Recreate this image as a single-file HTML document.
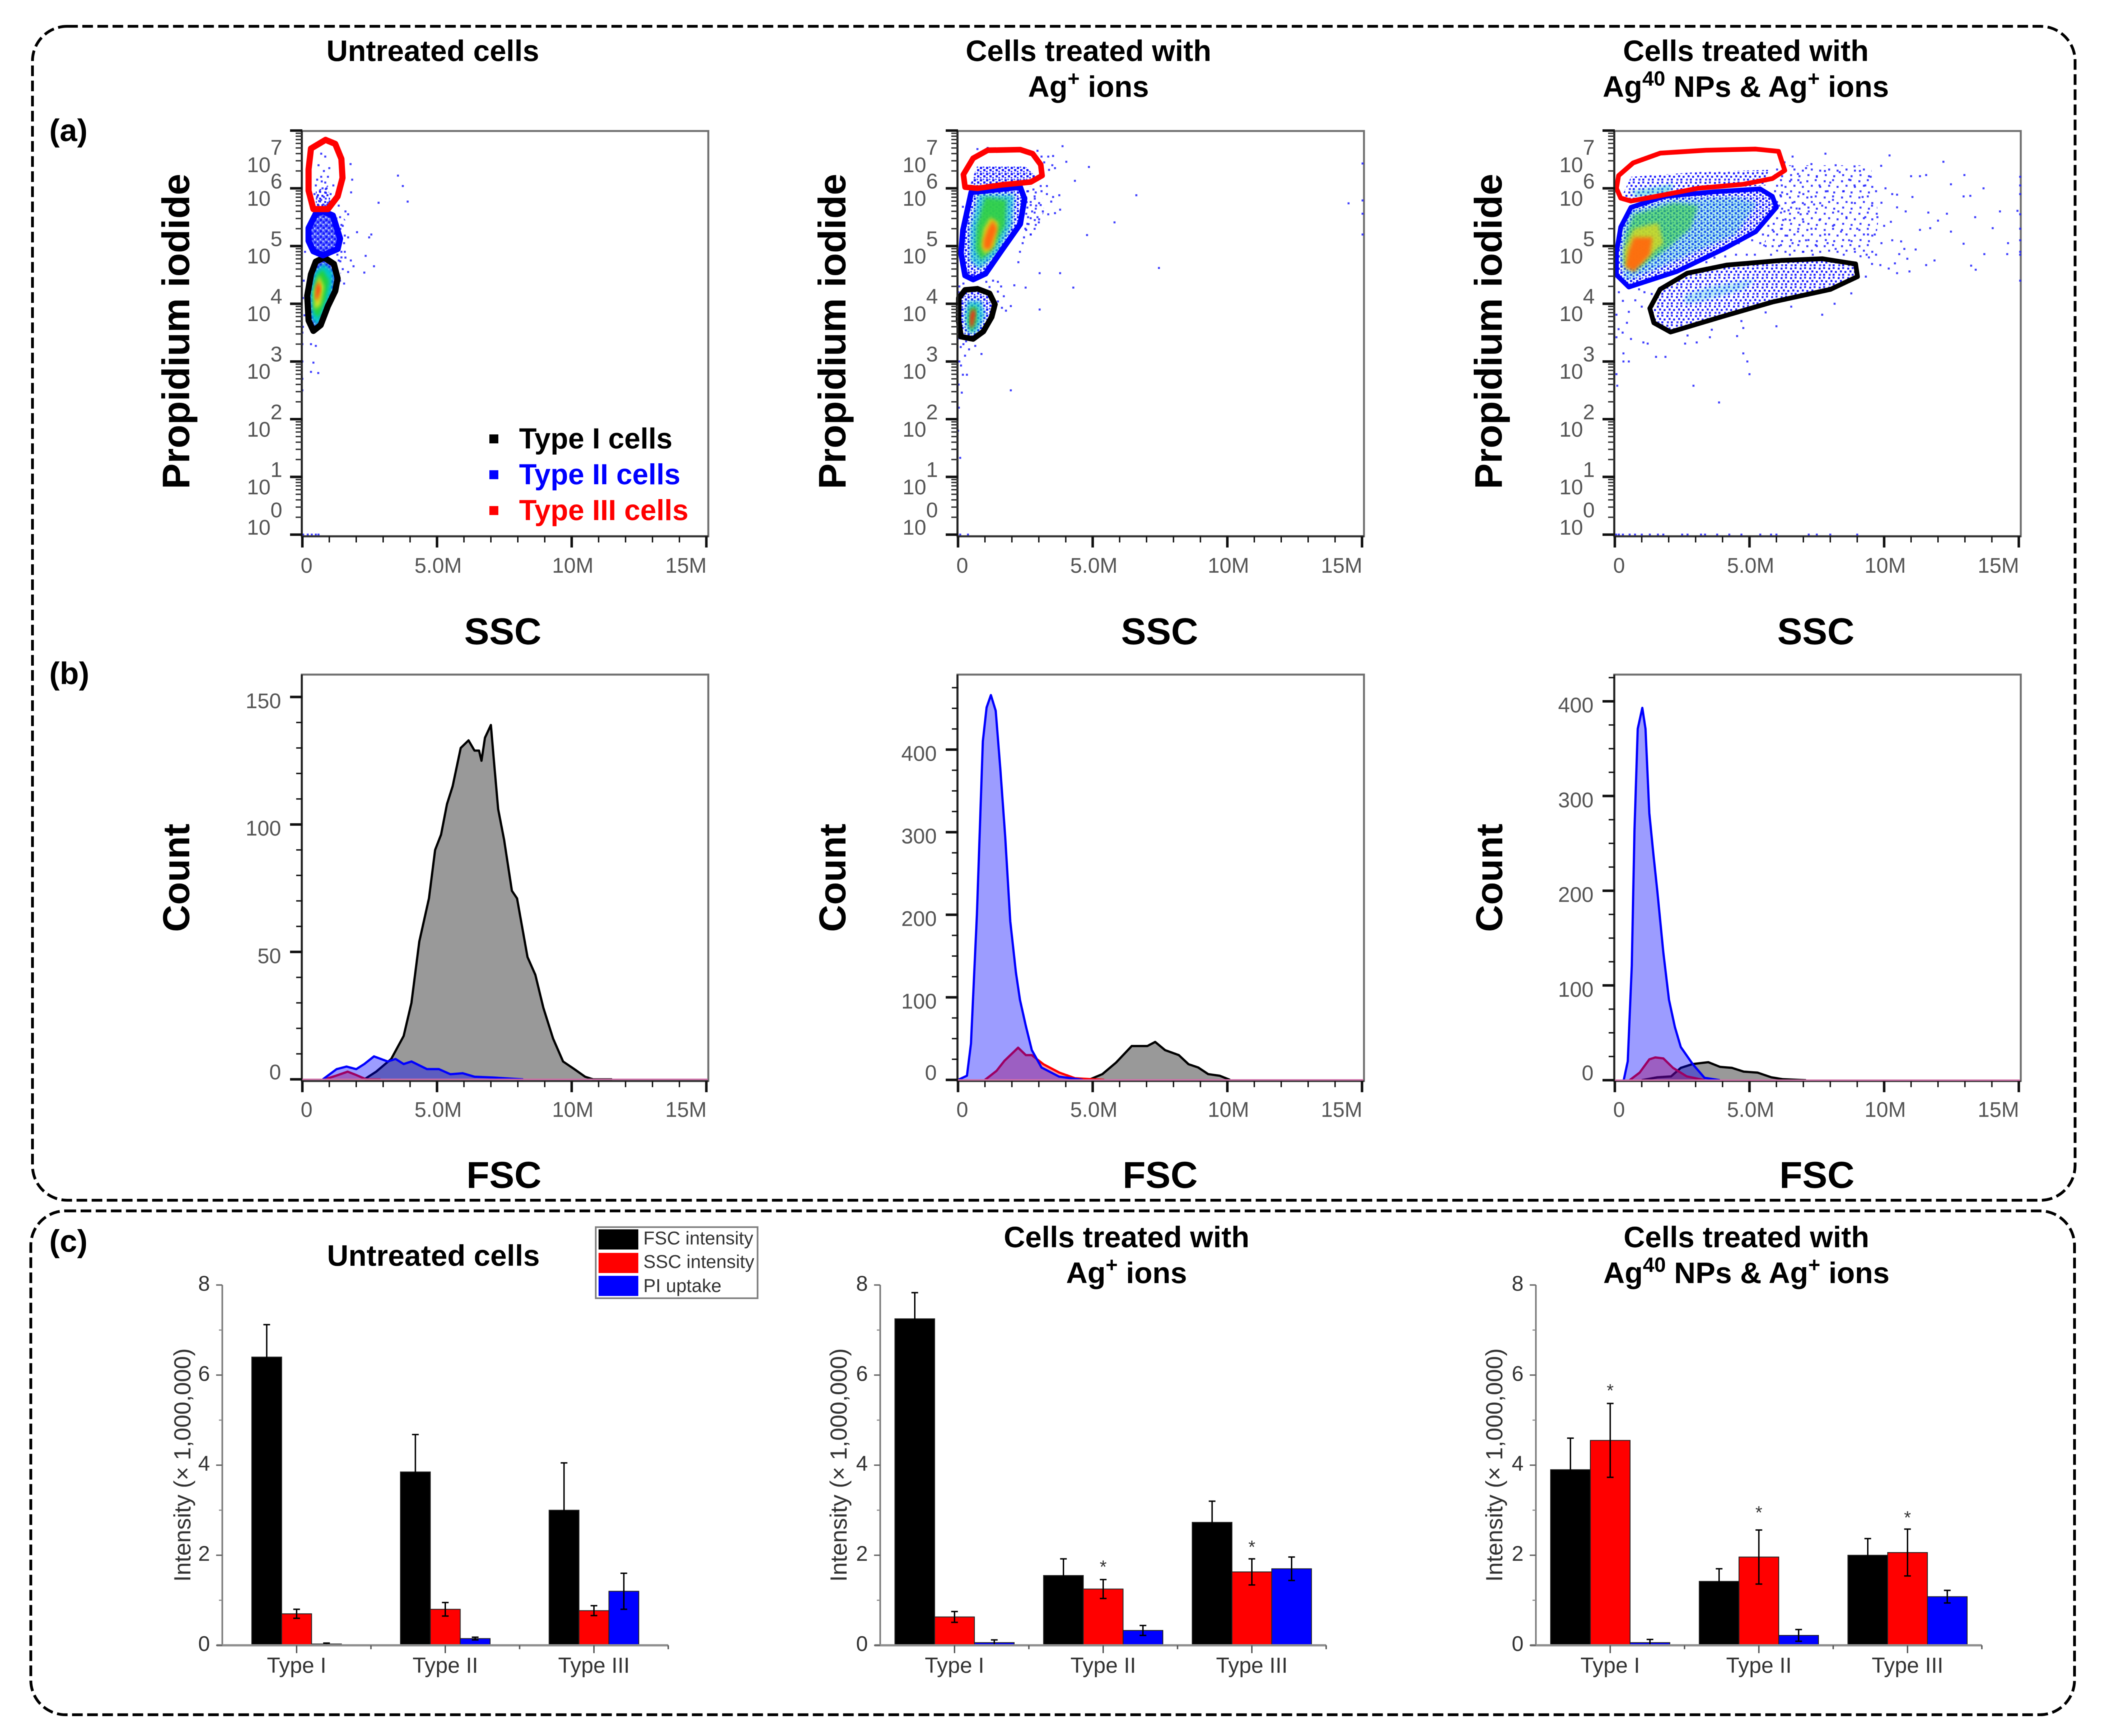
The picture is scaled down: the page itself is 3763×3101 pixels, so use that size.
<!DOCTYPE html>
<html lang="en">
<head>
<meta charset="utf-8">
<title>Flow cytometry of cells treated with silver</title>
<style>
html,body{margin:0;padding:0;background:#fff;width:3763px;height:3101px;overflow:hidden}
svg{display:block;filter:blur(0.9px)}
text{font-family:"Liberation Sans",Arial,sans-serif}
.ttl{font-size:53px;font-weight:700;fill:#000;text-anchor:middle}
.pan{font-size:56px;font-weight:700;fill:#000}
.axb{font-size:67px;font-weight:700;fill:#000}
.axp{font-size:69px;font-weight:700;fill:#000}
.axr{font-size:41.8px;fill:#333;text-anchor:middle}
.leg{font-size:51.5px;font-weight:700}
.lbl{font-size:33px;fill:#333}
</style>
</head>
<body>
<svg id="figure" xmlns="http://www.w3.org/2000/svg" width="3763" height="3101" viewBox="0 0 3763 3101">
<defs>
<pattern id="speckle" patternUnits="userSpaceOnUse" width="10" height="10">
<rect x="0" y="0" width="10" height="10" fill="#5a6aff"/>
<rect x="1" y="1" width="4" height="4" fill="#1414ff"/>
<rect x="6" y="5" width="4" height="4" fill="#1a1aff"/>
<rect x="6" y="0" width="2" height="2" fill="#dfe3ff"/>
<rect x="1" y="7" width="2" height="2" fill="#dfe3ff"/>
</pattern>
<pattern id="speckle-light" patternUnits="userSpaceOnUse" width="11" height="11">
<rect x="1" y="1" width="4" height="4" fill="#1414ff"/>
<rect x="7" y="5" width="4" height="4" fill="#1a1aff"/>
<rect x="6" y="0" width="3" height="3" fill="#5060ff"/>
<rect x="1" y="8" width="3" height="3" fill="#3a3aff"/>
</pattern>
<pattern id="mid" patternUnits="userSpaceOnUse" width="17" height="17">
<rect x="1" y="2" width="3.6" height="3.6" fill="#2020ff"/>
<rect x="9" y="1" width="3.6" height="3.6" fill="#3030ff"/>
<rect x="5" y="7" width="3.6" height="3.6" fill="#2020ff"/>
<rect x="13" y="8" width="3.6" height="3.6" fill="#2020ff"/>
<rect x="2" y="13" width="3.6" height="3.6" fill="#4040ff"/>
<rect x="9" y="13" width="3.6" height="3.6" fill="#2020ff"/>
</pattern>
<pattern id="sparse" patternUnits="userSpaceOnUse" width="31" height="29">
<rect x="2" y="3" width="3.6" height="3.6" fill="#2020ff" fill-opacity=".85"/>
<rect x="17" y="1" width="3.6" height="3.6" fill="#2020ff" fill-opacity=".85"/>
<rect x="10" y="11" width="3.6" height="3.6" fill="#2020ff" fill-opacity=".85"/>
<rect x="25" y="13" width="3.6" height="3.6" fill="#2020ff" fill-opacity=".85"/>
<rect x="4" y="21" width="3.6" height="3.6" fill="#2020ff" fill-opacity=".85"/>
<rect x="19" y="23" width="3.6" height="3.6" fill="#2020ff" fill-opacity=".85"/>
</pattern>
<filter id="soft-density" x="-20%" y="-20%" width="140%" height="140%"><feGaussianBlur stdDeviation="3.5"/></filter>
</defs>
<rect x="0" y="0" width="3763" height="3101" fill="#fff"/>
<rect x="58" y="47" width="3648" height="2097" rx="62" fill="none" stroke="#000" stroke-width="5" stroke-dasharray="19 8"/>
<rect x="55" y="2163" width="3650" height="900" rx="62" fill="none" stroke="#000" stroke-width="5" stroke-dasharray="19 8"/>

<text class="pan" x="88" y="252">(a)</text>
<text class="pan" x="88" y="1222">(b)</text>
<text class="pan" x="88" y="2236">(c)</text>

<text class="ttl" x="773" y="109">Untreated cells</text>
<text class="ttl" x="1944" y="109">Cells treated with</text>
<text class="ttl" x="1944" y="173">Ag<tspan font-size="37" dy="-20">+</tspan><tspan dy="20"> ions</tspan></text>
<text class="ttl" x="3118" y="109">Cells treated with</text>
<text class="ttl" x="3118" y="173">Ag<tspan font-size="37" dy="-20">40</tspan><tspan dy="20"> NPs &amp; Ag</tspan><tspan font-size="37" dy="-20">+</tspan><tspan dy="20"> ions</tspan></text>

<text class="ttl" x="774" y="2261">Untreated cells</text>
<text class="ttl" x="2012" y="2228">Cells treated with</text>
<text class="ttl" x="2012" y="2292">Ag<tspan font-size="37" dy="-20">+</tspan><tspan dy="20"> ions</tspan></text>
<text class="ttl" x="3119" y="2228">Cells treated with</text>
<text class="ttl" x="3119" y="2292">Ag<tspan font-size="37" dy="-20">40</tspan><tspan dy="20"> NPs &amp; Ag</tspan><tspan font-size="37" dy="-20">+</tspan><tspan dy="20"> ions</tspan></text>

<text class="axp" text-anchor="middle" transform="translate(338 592) rotate(-90)">Propidium iodide</text>
<text class="axp" text-anchor="middle" transform="translate(1510 592) rotate(-90)">Propidium iodide</text>
<text class="axp" text-anchor="middle" transform="translate(2682 592) rotate(-90)">Propidium iodide</text>
<text class="axb" text-anchor="middle" x="898" y="1151">SSC</text>
<text class="axb" text-anchor="middle" x="2071" y="1151">SSC</text>
<text class="axb" text-anchor="middle" x="3243" y="1151">SSC</text>
<text class="axb" text-anchor="middle" transform="translate(338 1568) rotate(-90)">Count</text>
<text class="axb" text-anchor="middle" transform="translate(1510 1568) rotate(-90)">Count</text>
<text class="axb" text-anchor="middle" transform="translate(2683 1568) rotate(-90)">Count</text>
<text class="axb" text-anchor="middle" x="900" y="2122">FSC</text>
<text class="axb" text-anchor="middle" x="2072" y="2122">FSC</text>
<text class="axb" text-anchor="middle" x="3245" y="2122">FSC</text>
<text class="axr" transform="translate(340 2617) rotate(-90)">Intensity (× 1,000,000)</text>
<text class="axr" transform="translate(1512 2617) rotate(-90)">Intensity (× 1,000,000)</text>
<text class="axr" transform="translate(2683 2617) rotate(-90)">Intensity (× 1,000,000)</text>

<g id="scatter-untreated"></g>
<g id="scatter-ag"></g>
<g id="scatter-nps"></g>
<g id="hist-untreated"></g>
<g id="hist-ag"></g>
<g id="hist-nps"></g>
<g id="bars-untreated"></g>
<g id="bars-ag"></g>
<g id="bars-nps"></g>

<g>
<rect x="874" y="776" width="16" height="16" fill="#000"/>
<text class="leg" x="927" y="801" fill="#000">Type I cells</text>
<rect x="874" y="840" width="16" height="16" fill="#0000ff"/>
<text class="leg" x="927" y="865" fill="#0000ff">Type II cells</text>
<rect x="874" y="904" width="16" height="16" fill="#ff0000"/>
<text class="leg" x="927" y="929" fill="#ff0000">Type III cells</text>
</g>

<g>
<rect x="1064" y="2192" width="289" height="127" fill="#fff" stroke="#808080" stroke-width="3"/>
<rect x="1069" y="2196" width="71" height="36" fill="#000"/>
<rect x="1069" y="2238" width="71" height="36" fill="#ff0000"/>
<rect x="1069" y="2279" width="71" height="36" fill="#0000ff"/>
<text class="lbl" x="1149" y="2223">FSC intensity</text>
<text class="lbl" x="1149" y="2265">SSC intensity</text>
<text class="lbl" x="1149" y="2308">PI uptake</text>
</g>
</svg>

<script>
/* ---------- shared tick data ---------- */
const xTickValues = [0, 5, 10, 15];
const xTickLabels = ['0', '5.0M', '10M', '15M'];
const logDecades = [0, 1, 2, 3, 4, 5, 6, 7];
const barCategories = ['Type I', 'Type II', 'Type III'];
const barYTicks = [0, 2, 4, 6, 8];
const barYMinorTicks = [1, 3, 5, 7];

/* ---------- scatter: gates as [SSC in millions, log10 PI] ---------- */
const untreatedGateType3 = [[.86,6.84],[1.22,6.77],[1.45,6.51],[1.49,6.18],[1.31,5.86],[.95,5.64],[.41,5.64],[.23,5.96],[.23,6.33],[.32,6.69]];
const untreatedGateType2 = [[.77,5.6],[1.13,5.53],[1.4,5.13],[1.31,4.95],[.77,4.84],[.41,4.91],[.23,5.09],[.23,5.31],[.5,5.56]];
const untreatedGateType1 = [[.81,4.8],[1.17,4.69],[1.31,4.44],[1.22,4.22],[.95,3.96],[.68,3.63],[.41,3.53],[.23,3.71],[.18,4.14],[.32,4.51],[.5,4.73]];
const agGateType3 = [[.26,6.02],[.2,6.24],[.56,6.52],[1.1,6.66],[2.31,6.67],[2.77,6.6],[3.07,6.41],[3.12,6.22],[2.7,6.11],[1.63,6.06],[.72,6.0]];
const agGateType2 = [[.49,5.93],[.18,5.27],[.11,4.88],[.26,4.49],[.56,4.42],[1.02,4.52],[1.63,4.93],[2.31,5.38],[2.47,5.82],[2.31,6.02]];
const agGateType1 = [[.03,4.1],[.26,4.24],[.72,4.26],[1.17,4.18],[1.37,3.99],[1.25,3.77],[.94,3.52],[.56,3.39],[.11,3.43],[.02,3.71]];
const npsGateType3 = [[.14,6.22],[.68,6.44],[1.69,6.61],[3.38,6.66],[5.23,6.68],[6.08,6.64],[6.31,6.31],[5.85,6.17],[4.77,6.07],[3.07,6.0],[1.53,5.86],[.6,5.78],[.22,5.83],[.06,6.0]];
const npsGateType2 = [[.6,5.67],[1.84,5.86],[3.69,5.94],[5.39,5.99],[5.85,5.86],[6.0,5.67],[5.23,5.25],[4.0,4.94],[2.3,4.56],[.52,4.29],[.06,4.5],[.06,4.89],[.22,5.33]];
const npsGateType1 = [[1.68,4.25],[2.69,4.53],[4.15,4.67],[6.16,4.75],[7.7,4.78],[8.94,4.69],[9.01,4.47],[8.01,4.25],[5.85,4.03],[4.0,3.78],[2.07,3.51],[1.45,3.67],[1.3,3.92]];

/* ---------- scatter: density bands, low to high density ---------- */
const untreatedDensityColors = ['#00c8c8', '#20d040', '#d0e020', '#ff3010'];
const untreatedDensityOpacity = [1, 1, 1, 1];
const untreatedDensityBands = [
 [[.8,4.7],[1.15,4.55],[1.1,4.2],[.85,3.9],[.55,3.6],[.35,3.75],[.3,4.2],[.45,4.55]],
 [[.75,4.6],[1,4.4],[.85,4.05],[.6,3.75],[.42,3.85],[.4,4.2],[.55,4.5]],
 [[.62,4.5],[.8,4.3],[.68,3.98],[.45,3.9],[.42,4.2]],
 [[.6,4.4],[.68,4.25],[.55,4.05],[.48,4.1],[.52,4.3]]
];
const agDensityColors = ['#10c8d0', '#30d040', '#d8d820', '#ff6a10', '#10c8d0', '#30d040', '#ff2010'];
const agDensityOpacity = [.7, .9, .95, 1, .75, .9, 1];
const agDensityBands = [
 [[.75,5.9],[2.1,5.9],[2.0,5.35],[1.45,4.85],[.8,4.6],[.45,4.75],[.45,5.3]],
 [[1.0,5.85],[1.8,5.8],[1.75,5.35],[1.3,4.95],[.85,4.75],[.65,4.95],[.7,5.35]],
 [[1.2,5.5],[1.5,5.4],[1.35,5.0],[1.0,4.85],[.85,5.0],[.95,5.3]],
 [[1.3,5.45],[1.45,5.3],[1.2,4.95],[.95,4.95],[.95,5.1],[1.1,5.3]],
 [[.35,4.05],[.85,4.05],[1.0,3.8],[.7,3.5],[.35,3.5],[.25,3.8]],
 [[.45,3.95],[.7,3.95],[.7,3.7],[.5,3.5],[.35,3.7]],
 [[.55,3.92],[.65,3.85],[.55,3.6],[.45,3.6],[.45,3.8]]
];
const npsDensityColors = ['#10c8d0', '#30d040', '#d8d820', '#ff6a10', '#20c0e0', '#20c8d0'];
const npsDensityOpacity = [.35, .6, .8, .95, .3, .5];
const npsDensityBands = [
 [[.5,5.6],[2,5.8],[4.5,5.85],[5.3,5.75],[4.5,5.2],[3,4.9],[1.5,4.6],[.4,4.4],[.2,4.8],[.3,5.3]],
 [[.7,5.55],[2.2,5.75],[3.1,5.7],[2.8,5.3],[1.8,4.9],[.7,4.55],[.3,4.7],[.4,5.2]],
 [[.7,5.3],[1.6,5.4],[1.8,5.05],[1.0,4.7],[.4,4.6],[.35,4.95]],
 [[.7,5.15],[1.4,5.15],[1.3,4.85],[.7,4.55],[.4,4.65],[.5,4.9]],
 [[2.6,4.15],[3.5,4.3],[5.2,4.42],[4.8,4.25],[3.3,4.05],[2.6,4.0]],
 [[.6,5.95],[2.2,6.07],[2.0,5.9],[.8,5.85]]
];

/* ---------- scatter: speckled event regions ---------- */
const npsType3Cloud = [[.3,5.9],[.6,6.2],[3,6.28],[5.7,6.32],[5.6,6.05],[3,5.98],[1.3,5.85],[.5,5.78]];
const npsOuterCloud = [[5.9,6.4],[9.5,6.4],[9.8,5.5],[9.6,4.75],[8.7,4.85],[6.3,4.85],[5.5,5.0],[6,5.6]];
const agType3Cloud = [[.45,6.05],[.7,6.38],[2.5,6.38],[2.9,6.2],[2.6,6.08],[1.5,6.0]];
const agOuterCloud = [[2.4,6.05],[3.1,6.0],[3.2,5.6],[2.7,5.1],[2.4,5.3]];
const untreatedOuterCloud = [[1.3,5.6],[1.7,5.4],[1.6,4.7],[1.4,4.5],[1.2,4.8]];
const untreatedType3Cloud = [[.5,5.95],[.95,6.05],[1.05,5.75],[.85,5.62],[.5,5.65]];

/* ---------- scatter: individually readable events ---------- */
const untreatedEvents = [[3.55,6.22],[3.73,6.04],[3.91,5.77],[2.83,5.75],[1.79,6.42],[1.85,6.15],[1.81,5.93],[2.56,5.2],[2.03,5.24],[2.48,5.15],[2.66,4.65],[2.35,4.83],[2.3,4.54],[.32,3.3],[.5,3.27],[.41,2.98],[.59,2.8],[.32,2.82],[0,3.5],[0,3.3],[0,3],[0,2.7],[0,2.5],
 [.7,6.6],[.85,6.55],[.6,6.4],[.8,6.3],[1,6.35],[.95,6.2],[.7,6.2],[.55,6.15],[.85,6.1],[.75,6],[.9,6],[.65,5.95],[.55,5.85],[.8,5.85],[1.05,5.9],[.7,5.8],[.95,5.75],[.6,5.7],[.85,5.7],[.75,5.65],[1.1,5.75],[.45,5.9],[.5,6.05],[1.15,6.05],[.72,6.12],[.88,5.92],[.62,5.78],[.78,5.72],
 [1.4,5.5],[1.5,5.35],[1.6,5.6],[1.35,5.7],[1.7,5.55],[1.55,5.05],[1.7,5.15],[1.45,4.9],[1.6,4.8],[1.8,4.75],[1.9,4.65],[1.5,4.6],[1.35,4.75],[1.7,4.55],[1.4,4.4],[1.55,4.35],[1.3,4.85],[.1,4.9],[.05,4.4],[.02,4.1],[.08,3.8],[.02,3.6],
 [.03,0],[.2,0],[.35,0],[.5,0],[.6,0]];
const agEvents = [[3.88,6.73],[3.53,6.56],[4.02,6.46],[4.86,6.37],[4.34,6.13],[3.6,6.35],[3.38,6.32],[3.76,5.88],[6.62,5.88],[5.81,5.41],[4.79,5.19],[7.46,4.62],[3.79,4.53],[3.03,4.53],[4.28,4.28],[2.51,4.28],[2.09,4.32],[3.03,3.9],[1.96,2.5],[1.78,3.88],[1.96,3.96],[14.5,5.74],[15.02,6.43],[15.02,5.79],[15.02,5.56],[15.02,5.2],[2.24,4.72],[3.6,5.57],[3.79,5.63],[3,5.41],[2.62,5.38],[3.3,6.04],[3.07,6.04],[2.85,5.82],[3.46,5.77],[2.7,5.71],[3.07,5.71],[3.53,5.85],[2.55,5.76],
 [.03,2.2],[0,1.8],[.08,1.33],[.14,2.46],[.18,2.77],[.33,2.77],[.11,2.93],[.26,3.1],[.41,3.21],[.87,3.13],[.64,3.27],[.05,3.0],[.02,2.6],[.1,3.25],[.05,3.4],[.2,3.3],[.3,3.35],
 [.08,0],[.37,0],[1.17,4.29],[1.48,4.21],[1.7,4.13],[1.48,4.04],[1.63,3.93],[1.48,4.38],[.18,5.68],[.72,6.68],[1.3,4.4],[1.05,4.38],[1.6,4.3],
 [2.6,5.95],[2.8,5.98],[2.75,5.6],[2.6,5.5],[2.85,5.45],[2.5,5.3],[2.45,5.15],[2.7,5.2],[2.4,5.05],[2.3,4.9],[3.1,5.95],[3.3,5.9],[2.9,5.7],[3.15,5.6],[3.35,5.55],[2.95,5.5],[3.1,6.55],[3.35,6.55],[3.2,6.45],[3.5,6.4],[2.95,6.65],[1.1,6.7],[.6,4.5],[.2,4.35],[.05,4.3],[.02,4.2]];
const npsEvents = [[5.9,6.2],[6.2,6.05],[6.4,5.9],[6.1,5.7],[6.6,5.75],[6.9,6.1],[7.1,6.35],[7.3,6.42],[6.6,6.38],[6.8,6.25],[7,5.9],[7.3,5.85],[7.2,5.6],[6.9,5.55],[6.5,5.45],[6.2,5.3],[6.8,5.25],[7.3,5.3],[7.6,5.45],[7.1,5.1],[6.6,5.05],[6.1,5.0],[5.6,5.0],[5.2,4.85],[5.8,4.85],[6.5,4.85],[7,4.9],[7.5,5],[7.8,5.2],
 [6.3,6.3],[6.55,6.15],[6.15,5.88],[6.3,5.6],[6.45,5.62],[6.75,5.65],[7.05,5.72],[6.25,5.45],[5.9,5.25],[5.5,5.2],[5.7,5.35],[6.4,5.18],[7,5.42],[7.4,5.72],[7.6,6.05],[7.8,6.3],[7.5,6.2],[8,6.1],[8.2,6.4],[8.35,6.28],[7.9,5.95],[8.1,5.8],[7.7,5.7],[8.3,5.6],[8.5,5.95],[8.7,6.15],[8.9,6.38],[9.1,6.3],[9.3,6.05],[9.2,5.85],[8.8,5.75],[8.6,5.5],[8.1,5.35],[8.4,5.25],[7.9,5.05],[8.2,4.95],[8.7,5.1],[9,5.3],[9.3,5.5],[9.55,5.7],[9.4,5.2],[8.9,4.95],[9.35,4.85],[8.5,4.85],[7.35,4.85],[5.4,5.05],[4.9,4.85],[4.5,4.85],[4.1,4.82],[3.7,4.8],[3.4,4.72],[4.6,5.05],[5.1,5.1],[5.7,5.55],[5.95,5.95],[6.6,6.55],[6.3,6.45],[7.82,6.6],[9.89,6.39],[8.9,6.05],
 [10.2,6.57],[12.2,6.46],[11,6.21],[11.33,6.21],[11.56,6.23],[12.98,6.23],[12.48,6.07],[13.69,6],[12.95,5.86],[13.2,5.87],[10.48,5.89],[10.48,5.67],[11.64,5.58],[10.25,5.42],[12.33,5.56],[13.38,5.5],[12,5.44],[14.03,5.31],[12.48,5.25],[11.71,5.31],[11.33,5.28],[12.95,5.04],[10.63,5.08],[11.17,4.94],[13.72,4.86],[14.57,4.86],[14.95,5.61],[13.23,4.66],[13.4,4.59],[11.87,4.75],[11.56,4.67],[10.94,4.56],[10.48,4.53],[10.17,4.61],[9.86,4.67],[9.55,4.69],[9.32,4.47],[10.86,4.78],[10.56,4.86],[9.7,5.95],[9.9,5.75],[10.05,6.0],[10.3,5.9],[9.75,5.5],[10,5.35],[9.65,5.2],[9.9,5.05],[10.3,5.1],[9.7,4.85],[10.4,4.7],[10.75,4.95],[9.5,6.2],[10.8,5.6],[11.05,5.85],
 [15.05,6.2],[15.05,6.05],[15.05,5.9],[15.05,5.55],[15.05,5.3],[15.05,5.1],[15.05,4.9],[15.05,4.85],[15.05,4.4],[14.3,5.6],[14.6,5.05],
 [.06,2.78],[.09,2.58],[2.92,2.58],[3.87,2.29],[5,2.78],[4.92,3],[4.77,3.14],[1.88,3.08],[1.53,3.08],[.32,3],[.52,3],[.32,3.14],[1.06,3.33],[1.22,3.31],[.6,3.39],[.29,3.5],[.06,3.42],[.45,3.67],[.06,3.81],[.14,3.56],[.76,4.06],[.52,3.86],[1.37,4.17],[2.61,3.31],[3.04,3.33],[3.53,3.42],[4.54,3.44],[4.77,3.58],[6,3.61],[7.7,3.81],[8.16,4],[8.78,4.18],[1.1,4.2],[1.0,3.95],[6.55,3.95],[5.6,3.85],[4.7,3.7],[3.6,3.55],[2.7,3.45],[.3,4.05],[.15,4.2],[.9,4.25],
 [.05,0],[.15,0],[.3,0],[.55,0],[.75,0],[1,0],[1.3,0],[1.6,0],[1.8,0],[2.5,0],[2.7,0],[3.2,0],[3.35,0],[3.8,0],[4.25,0],[4.7,0],[5.4,0],[5.8,0],[6,0],[7.2,0],[7.5,0],[8,0],[9,0]];

/* ---------- histograms: FSC in millions and event counts ---------- */
const untreatedBlackFsc = [2.3,2.74,3.3,3.76,4.05,4.34,4.7,4.93,5.15,5.37,5.58,5.88,6.17,6.39,6.56,6.65,6.78,7.0,7.12,7.27,7.49,7.78,7.97,8.36,8.65,8.95,9.31,9.68,10.1,10.5,10.8,11.5];
const untreatedBlackCount = [0,3,8,17,30,54,71,90,96,108,115,130,133,129,129,125,134,139,124,106,94,74,71,48,41,28,16,7,4,1,0,0];
const untreatedBlueFsc = [.76,1.27,1.64,2.0,2.3,2.66,3.17,3.46,3.76,4.05,4.63,5.07,5.5,5.95,6.4,7.1,8.2];
const untreatedBlueCount = [0,4,5,4,6,9,7,8,6,7,4,4,2,2.4,1,.7,0];
const untreatedRedFsc = [.83,1.27,1.68,2,2.37,2.9];
const untreatedRedCount = [0,1.5,3,1.7,0,0];
const agBlueFsc = [0,.33,.48,.7,.92,1.06,1.22,1.4,1.57,1.75,1.94,2.15,2.3,2.52,2.74,3.1,3.75,4.63];
const agBlueCount = [0,5,44,200,410,451,466,447,377,295,192,130,97,65,36,15,4,0];
const agRedFsc = [1,1.43,1.72,2.23,2.52,2.74,3.17,3.75,4.34,5.43];
const agRedCount = [0,11,23,39,30,30,19,9,2,0];
const agBlackFsc = [4.85,5.36,5.87,6.45,7.03,7.32,7.69,8.2,8.56,8.92,9.29,9.72,10.1];
const agBlackCount = [0,7,21,41,41,46,36,30,19,15,7,5,0];
const npsBlueFsc = [.33,.48,.63,.73,.85,1.02,1.14,1.28,1.43,1.58,1.8,2.01,2.23,2.45,2.89,3.33,3.9];
const npsBlueCount = [0,20,121,264,371,393,371,282,239,199,135,85,56,35,17,2.5,0];
const npsRedFsc = [.55,.92,1.28,1.5,1.8,2.16,2.67,3.33];
const npsRedCount = [0,8,22,24,23,13,4,0];
const npsBlackFsc = [1,1.58,2.09,2.45,2.89,3.47,3.91,4.35,4.79,5.3,5.81,6.25,7.1];
const npsBlackCount = [0,3,4,13,17,19,14,13,9,8,3,1,0];

/* ---------- bar charts: means and error half-widths ---------- */
const untreatedFsc = [6.4, 3.85, 3.0];
const untreatedSsc = [.7, .8, .77];
const untreatedPi = [.03, .15, 1.2];
const untreatedFscErr = [.72, .83, 1.05];
const untreatedSscErr = [.1, .15, .11];
const untreatedPiErr = [.02, .03, .4];
const agFsc = [7.25, 1.55, 2.73];
const agSsc = [.63, 1.25, 1.63];
const agPi = [.06, .33, 1.7];
const agFscErr = [.58, .37, .47];
const agSscErr = [.12, .21, .29];
const agPiErr = [.06, .11, .26];
const agStarCategory = [1, 2];
const agStarValue = [1.83, 2.27];
const npsFsc = [3.9, 1.42, 2.0];
const npsSsc = [4.55, 1.96, 2.06];
const npsPi = [.06, .22, 1.08];
const npsFscErr = [.7, .28, .37];
const npsSscErr = [.82, .6, .52];
const npsPiErr = [.07, .13, .14];
const npsStarCategory = [0, 1, 2];
const npsStarValue = [5.74, 3.03, 2.92];
const noStars = [];

const SVGNS = 'http://www.w3.org/2000/svg';
function make(tag, attrs, parent) {
  const el = document.createElementNS(SVGNS, tag);
  for (const k in attrs) el.setAttribute(k, attrs[k]);
  parent.appendChild(el);
  return el;
}
function xAxisFn(x0) { return v => x0 + 48.1 * v; }
function logAxisFn() { return d => 955 - 103.1 * d; }
function polyString(points, sx, sy) {
  return points.map(p => sx(p[0]).toFixed(1) + ',' + sy(p[1]).toFixed(1)).join(' ');
}

function drawFrame(g, x0, top, bottom) {
  const frame = make('rect', {x: x0 - 1, y: top, width: 726, height: bottom - top, fill: '#fff', stroke: '#707070', 'stroke-width': 3.5}, g);
  
  
}
function drawAxisLines(g, x0, top, bottom) {
  const left = make('line', {x1: x0 - 1, x2: x0 - 1, y1: top, y2: bottom, stroke: '#222', 'stroke-width': 3.5}, g);
  
  
  const base = make('line', {x1: x0 - 1, x2: x0 + 725, y1: bottom, y2: bottom, stroke: '#333', 'stroke-width': 3.5}, g);
  
  
}
function drawXAxis(g, x0, bottom, labelY) {
  const sx = xAxisFn(x0);
  for (let m = 0; m <= 15; m++) {
    const major = m % 5 === 0;
    const t = make('line', {x1: sx(m), x2: sx(m), y1: bottom, y2: bottom + (major ? 20 : 11), stroke: '#111', 'stroke-width': major ? 4.5 : 2.5}, g);
    
    
  }
  xTickValues.forEach((v, i) => {
    let anchor = 'middle', px = sx(v) + 2;
    if (i === 0) { anchor = 'start'; px = sx(v) - 3; }
    if (i === xTickValues.length - 1) { anchor = 'end'; px = x0 + 722; }
    const lab = make('text', {x: px, y: labelY, 'text-anchor': anchor, 'font-size': 38, fill: '#555'}, g);
    lab.textContent = xTickLabels[i];
    
    
  });
}

function drawScatter(id, x0, colors, opacities, bands, clouds, cloudPatterns, gates, gatePatterns, events, gateWidth) {
  const g = document.getElementById(id);
  const sx = xAxisFn(x0), sy = logAxisFn();
  drawFrame(g, x0, 234, 958);
  const gateColors = ['#000000', '#0000ff', '#ff0000'];
  clouds.forEach((c, i) => {
    const cloud = make('polygon', {points: polyString(c, sx, sy), fill: 'url(#' + cloudPatterns[i] + ')'}, g);
    
    
  });
  gatePatterns.forEach((pat, i) => {
    const base = make('polygon', {points: polyString(gates[i], sx, sy), fill: 'url(#' + pat + ')'}, g);
    
    
  });
  bands.forEach((band, i) => {
    const b = make('polygon', {points: polyString(band, sx, sy), fill: colors[i], 'fill-opacity': opacities[i], filter: 'url(#soft-density)'}, g);
    
    
  });
  events.forEach(p => {
    const d = make('rect', {x: sx(p[0]) - 1.8, y: sy(p[1]) - 1.8, width: 3.6, height: 3.6, fill: '#2020ff', 'fill-opacity': .85}, g);
    
    
  });
  gates.forEach((gate, i) => {
    const s = make('polygon', {points: polyString(gate, sx, sy), fill: 'none', stroke: gateColors[i], 'stroke-width': gateWidth, 'stroke-linejoin': 'round'}, g);
    
    
  });
  drawAxisLines(g, x0, 234, 958);
  logDecades.forEach(d => {
    const maj = make('line', {x1: x0 - 22, x2: x0, y1: sy(d), y2: sy(d), stroke: '#111', 'stroke-width': 4.5}, g);
    
    
    if (d < 7) {
      for (let k = 2; k <= 9; k++) {
        const mn = make('line', {x1: x0 - 12, x2: x0, y1: sy(d + Math.log10(k)), y2: sy(d + Math.log10(k)), stroke: '#333', 'stroke-width': 2.5}, g);
        
        
      }
    }
    let expBase = sy(d);
    if (d === 0) expBase = sy(0) - 31;
    if (d === 7) expBase = sy(7) + 43;
    const ten = make('text', {x: x0 - 99, y: expBase + 31, 'font-size': 38, fill: '#555'}, g);
    ten.textContent = '10';
    
    
    const ex = make('text', {x: x0 - 57, y: expBase, 'font-size': 38, fill: '#555'}, g);
    ex.textContent = String(d);
    
    
  });
  drawXAxis(g, x0, 958, 1023);
}

function drawHistogram(id, x0, y0, pxPerCount, yMax, minorStep, majorStep, series) {
  const g = document.getElementById(id);
  const sx = xAxisFn(x0);
  const sy = c => y0 - pxPerCount * c;
  drawFrame(g, x0, 1205, 1931);
  series.forEach(s => {
    let d = 'M' + sx(s.fsc[0]).toFixed(1) + ' ' + sy(0).toFixed(1);
    s.fsc.forEach((v, i) => { d += ' L' + sx(v).toFixed(1) + ' ' + sy(s.count[i]).toFixed(1); });
    const line = s.fsc.map((v, i) => sx(v).toFixed(1) + ',' + sy(s.count[i]).toFixed(1)).join(' ');
    const area = make('path', {d: d + ' Z', fill: s.fill, 'fill-opacity': s.alpha}, g);
    
    
    const stroke = make('polyline', {points: line, fill: 'none', stroke: s.stroke, 'stroke-width': 4, 'stroke-linejoin': 'round'}, g);
    
    
  });
  drawAxisLines(g, x0, 1205, 1931);
  const pink = make('line', {x1: x0, x2: x0 + 724, y1: y0, y2: y0, stroke: '#d070a8', 'stroke-width': 2.5}, g);
  
  
  for (let c = 0; c <= yMax; c += minorStep) {
    const major = c % majorStep === 0;
    const t = make('line', {x1: x0 - (major ? 22 : 11), x2: x0, y1: sy(c), y2: sy(c), stroke: '#111', 'stroke-width': major ? 4.5 : 2.5}, g);
    
    
    if (major) {
      const lab = make('text', {x: x0 - 38, y: sy(c) + (c === 0 ? 0 : 20), 'text-anchor': 'end', 'font-size': 38, fill: '#555'}, g);
      lab.textContent = String(c);
      
      
    }
  }
  drawXAxis(g, x0, 1931, 1995);
}

function drawBars(id, axisX, barW, series, errors, starCats, starVals) {
  const g = document.getElementById(id);
  const groupW = 265.5;
  const sy = v => 2939 - 80.45 * v;
  const catX = i => axisX + (i + .5) * groupW;
  const barColors = ['#000000', '#ff0000', '#0000ff'];
  const barNames = ['fsc', 'ssc', 'pi'];
  series.forEach((vals, s) => {
    vals.forEach((v, i) => {
      const left = catX(i) - 1.5 * barW + s * barW;
      const r = make('rect', {x: left, y: sy(v), width: barW, height: sy(0) - sy(v), fill: barColors[s], stroke: '#222', 'stroke-width': 1.5}, g);
      
      
    });
  });
  series.forEach((vals, s) => {
    vals.forEach((v, i) => {
      const mid = catX(i) - barW + s * barW;
      const e = errors[s][i];
      const stem = make('line', {x1: mid, x2: mid, y1: sy(v + e), y2: sy(Math.max(0, v - e)), stroke: '#000', 'stroke-width': 2.5}, g);
      
      
      [v + e, Math.max(0, v - e)].forEach(c => {
        const cap = make('line', {x1: mid - 6, x2: mid + 6, y1: sy(c), y2: sy(c), stroke: '#000', 'stroke-width': 2.5}, g);
        
        
      });
    });
  });
  const yLine = make('line', {x1: axisX, x2: axisX, y1: sy(8), y2: sy(0), stroke: '#808080', 'stroke-width': 3}, g);
  
  
  const xLine = make('line', {x1: axisX - 10, x2: axisX + 3 * groupW, y1: sy(0), y2: sy(0), stroke: '#909090', 'stroke-width': 4}, g);
  
  
  barYTicks.forEach(v => {
    const t = make('line', {x1: axisX - 11, x2: axisX, y1: sy(v), y2: sy(v), stroke: '#666', 'stroke-width': 2.5}, g);
    
    
    const lab = make('text', {x: axisX - 22, y: sy(v) + 10, 'text-anchor': 'end', 'font-size': 38, fill: '#333'}, g);
    lab.textContent = String(v);
    
    
  });
  barYMinorTicks.forEach(v => {
    const t = make('line', {x1: axisX - 6, x2: axisX, y1: sy(v), y2: sy(v), stroke: '#888', 'stroke-width': 2}, g);
    
    
  });
  barCategories.forEach((c, i) => {
    const t = make('line', {x1: catX(i), x2: catX(i), y1: sy(0), y2: sy(0) + 14, stroke: '#555', 'stroke-width': 2.5}, g);
    
    
    const b = make('line', {x1: axisX + (i + 1) * groupW, x2: axisX + (i + 1) * groupW, y1: sy(0), y2: sy(0) + 7, stroke: '#555', 'stroke-width': 2.5}, g);
    
    
    const lab = make('text', {x: catX(i), y: 2988, 'text-anchor': 'middle', 'font-size': 39, fill: '#333'}, g);
    lab.textContent = c;
    
    
  });
  starCats.forEach((c, i) => {
    const st = make('text', {x: catX(c), y: sy(starVals[i]) + 18, 'text-anchor': 'middle', 'font-size': 32, fill: '#333'}, g);
    st.textContent = '*';
    
    
  });
}

drawScatter('scatter-untreated', 540, untreatedDensityColors, untreatedDensityOpacity, untreatedDensityBands,
  [untreatedOuterCloud, untreatedType3Cloud], ['sparse', 'mid'],
  [untreatedGateType1, untreatedGateType2, untreatedGateType3], ['speckle', 'speckle'], untreatedEvents, 11);
drawScatter('scatter-ag', 1711, agDensityColors, agDensityOpacity, agDensityBands,
  [agType3Cloud, agOuterCloud], ['speckle-light', 'sparse'],
  [agGateType1, agGateType2, agGateType3], ['speckle-light', 'speckle-light'], agEvents, 10);
drawScatter('scatter-nps', 2884, npsDensityColors, npsDensityOpacity, npsDensityBands,
  [npsType3Cloud, npsOuterCloud], ['mid', 'sparse'],
  [npsGateType1, npsGateType2, npsGateType3], ['mid', 'speckle-light'], npsEvents, 8.5);

function histSeries(name, fsc, count, fill, alpha, stroke) {
  return {name: name, fsc: fsc, count: count, fill: fill, alpha: alpha, stroke: stroke};
}
drawHistogram('hist-untreated', 540, 1928, 4.553, 150, 10, 50, [
  histSeries('type-1', untreatedBlackFsc, untreatedBlackCount, '#808080', .8, '#000'),
  histSeries('type-3', untreatedRedFsc, untreatedRedCount, '#ff0000', .39, '#ff0000'),
  histSeries('type-2', untreatedBlueFsc, untreatedBlueCount, '#0000ff', .39, '#0000ff')
]);
drawHistogram('hist-ag', 1711, 1929, 1.475, 475, 25, 100, [
  histSeries('type-1', agBlackFsc, agBlackCount, '#808080', .8, '#000'),
  histSeries('type-3', agRedFsc, agRedCount, '#ff0000', .39, '#ff0000'),
  histSeries('type-2', agBlueFsc, agBlueCount, '#0000ff', .39, '#0000ff')
]);
drawHistogram('hist-nps', 2884, 1929.5, 1.692, 425, 25, 100, [
  histSeries('type-1', npsBlackFsc, npsBlackCount, '#808080', .8, '#000'),
  histSeries('type-3', npsRedFsc, npsRedCount, '#ff0000', .39, '#ff0000'),
  histSeries('type-2', npsBlueFsc, npsBlueCount, '#0000ff', .39, '#0000ff')
]);

drawBars('bars-untreated', 397, 53.4, [untreatedFsc, untreatedSsc, untreatedPi], [untreatedFscErr, untreatedSscErr, untreatedPiErr], noStars, noStars);
drawBars('bars-ag', 1572, 71, [agFsc, agSsc, agPi], [agFscErr, agSscErr, agPiErr], agStarCategory, agStarValue);
drawBars('bars-nps', 2743, 71, [npsFsc, npsSsc, npsPi], [npsFscErr, npsSscErr, npsPiErr], npsStarCategory, npsStarValue);
</script>
</body>
</html>
